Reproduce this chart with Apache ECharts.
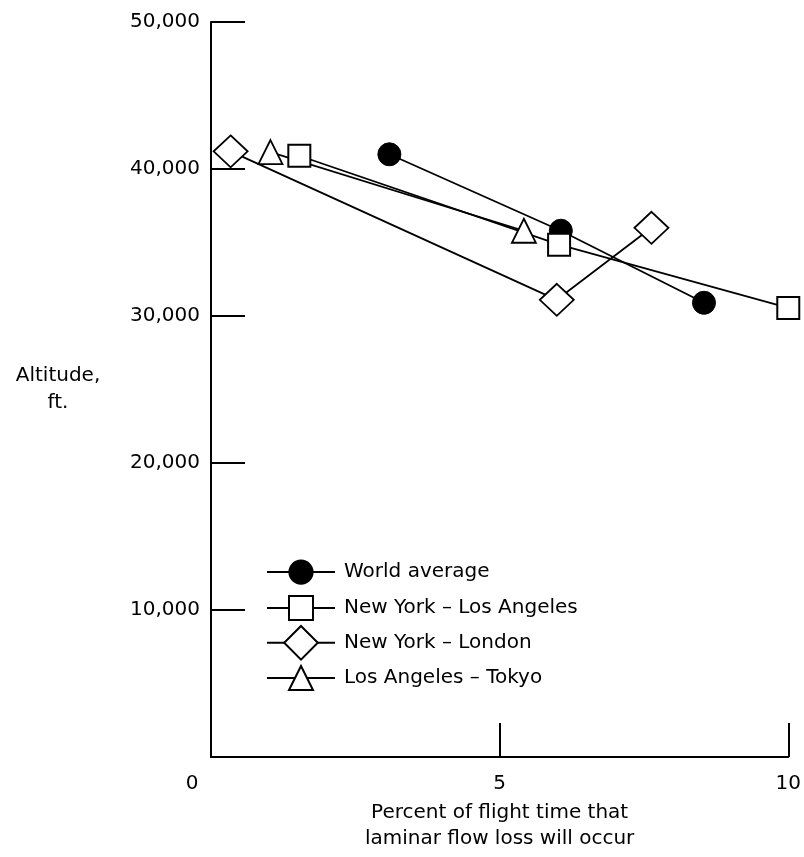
<!DOCTYPE html>
<html>
<head>
<meta charset="utf-8">
<script src="https://cdn.jsdelivr.net/npm/echarts@6/dist/echarts.min.js"></script>
<style>
html,body{margin:0;padding:0;background:#fff;}
#chart{width:804px;height:857px;}
</style>
</head>
<body>
<div id="chart"></div>
<script>
// Data
const seriesNames = ['World average', 'New York \u2013 Los Angeles', 'New York \u2013 London', 'Los Angeles \u2013 Tokyo'];
const worldX = [3.09, 6.06, 8.54];
const worldY = [41000, 35800, 30900];
const nylaX = [1.53, 6.03, 10.0];
const nylaY = [40900, 34850, 30550];
const nylonX = [0.34, 5.99, 7.63];
const nylonY = [41200, 31100, 36000];
const latyoX = [1.03, 5.42];
const latyoY = [41150, 35800];
const xTicks = [0, 5, 10];
const yTicks = [10000, 20000, 30000, 40000, 50000];

const FONT = 'DejaVu Sans';
const FS = 20;
function pairs(xs, ys) { return xs.map((x, i) => [x, ys[i]]); }

// legend layout: one legend per series so each icon can have its own size
const legendRowsY = [574, 610, 646, 680];
const legendItemH = [29, 30, 42, 30];

const legends = seriesNames.map((n, i) => ({
  orient: 'vertical',
  left: 266,
  top: legendRowsY[i] - legendItemH[i] / 2,
  padding: 0,
  itemWidth: 68,
  itemHeight: legendItemH[i],
  data: [n],
  selectedMode: false,
  textStyle: {fontFamily: FONT, fontSize: FS, color: '#000', padding: [0, 0, 0, 4]}
}));

const chart = echarts.init(document.getElementById('chart'), null, {renderer: 'canvas'});
const lineStyle = {color: '#000', width: 1.8};
const option = {
  backgroundColor: '#fff',
  animation: false,
  textStyle: {fontFamily: FONT, color: '#000'},
  grid: {left: 211, right: 12, top: 22, bottom: 96},
  legend: legends,
  xAxis: {
    type: 'value',
    min: 0, max: 10, interval: 5,
    name: 'Percent of flight time that\nlaminar flow loss will occur',
    nameLocation: 'middle',
    nameGap: 43,
    nameTextStyle: {fontFamily: FONT, fontSize: FS, color: '#000', lineHeight: 26},
    axisLine: {lineStyle: {color: '#000', width: 2}},
    axisTick: {inside: true, length: 34, lineStyle: {color: '#000', width: 2}},
    axisLabel: {
      margin: 17, fontFamily: FONT, fontSize: FS, color: '#000',
      formatter: v => v === 0 ? '{z|0}' : String(v),
      rich: {z: {fontFamily: FONT, fontSize: FS, color: '#000', padding: [0, 38, 0, 0]}}
    },
    splitLine: {show: false}
  },
  yAxis: {
    type: 'value',
    min: 0, max: 50000, interval: 10000,
    name: 'Altitude,\nft.',
    nameLocation: 'middle',
    nameRotate: 0,
    nameGap: 153,
    nameTextStyle: {fontFamily: FONT, fontSize: FS, color: '#000', align: 'center', verticalAlign: 'middle', lineHeight: 27, padding: [8, 0, 0, 0]},
    axisLine: {lineStyle: {color: '#000', width: 2}},
    axisTick: {inside: true, length: 34, lineStyle: {color: '#000', width: 2}},
    axisLabel: {
      margin: 11, fontFamily: FONT, fontSize: FS, color: '#000',
      formatter: v => v === 0 ? '' : v.toLocaleString('en-US')
    },
    splitLine: {show: false}
  },
  series: [
    {
      name: seriesNames[0], type: 'line', data: pairs(worldX, worldY),
      symbol: 'circle', symbolSize: 23,
      lineStyle: lineStyle,
      itemStyle: {color: '#000', borderColor: '#000', borderWidth: 1}
    },
    {
      name: seriesNames[1], type: 'line', data: pairs(nylaX, nylaY),
      symbol: 'rect', symbolSize: 22,
      lineStyle: lineStyle,
      itemStyle: {color: '#fff', borderColor: '#000', borderWidth: 2}
    },
    {
      name: seriesNames[2], type: 'line', data: pairs(nylonX, nylonY),
      symbol: 'diamond', symbolSize: [34, 32],
      lineStyle: lineStyle,
      itemStyle: {color: '#fff', borderColor: '#000', borderWidth: 1.8}
    },
    {
      name: seriesNames[3], type: 'line', data: pairs(latyoX, latyoY),
      symbol: 'triangle', symbolSize: 24,
      lineStyle: lineStyle,
      itemStyle: {color: '#fff', borderColor: '#000', borderWidth: 1.8}
    }
  ]
};
chart.setOption(option);
</script>
</body>
</html>
